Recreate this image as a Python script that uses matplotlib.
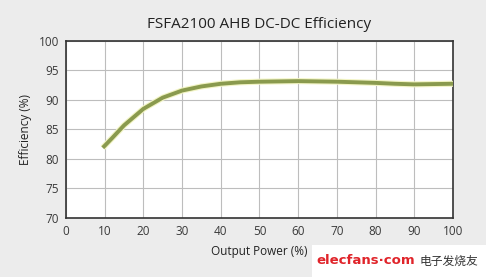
import matplotlib.pyplot as plt

# Efficiency curve
power = [9.5, 12, 15, 20, 25, 30, 35, 40, 45, 50, 60, 70, 80, 85, 90, 95, 100]
efficiency = [81.9, 83.6, 85.7, 88.5, 90.4, 91.6, 92.3, 92.75, 93.0, 93.1, 93.2, 93.1, 92.9,
              92.75, 92.65, 92.7, 92.75]
x_ticks = list(range(0, 101, 10))
y_ticks = list(range(70, 101, 5))

plt.rcParams['font.family'] = ['Open Sans', 'DejaVu Sans']

fig = plt.figure(figsize=(4.86, 2.77), dpi=100, facecolor='#ececec')
ax = fig.add_axes([0.1358, 0.213, 0.7963, 0.639])
ax.set_facecolor('white')

# soft yellow halo under the line, like the original
ax.plot(power, efficiency, color='#f2f4c4', linewidth=4.4, solid_capstyle='butt', zorder=3)
ax.plot(power, efficiency, color='#8a9a4e', linewidth=2.8, solid_capstyle='butt', zorder=4)

ax.set_xlim(0, 100)
ax.set_ylim(70, 100)
ax.set_xticks(x_ticks)
ax.set_yticks(y_ticks)
ax.grid(True, color='#bdbdbd', linewidth=0.8)
ax.tick_params(length=0, labelsize=8.5, colors='#3a3a3a', pad=5)
for s in ax.spines.values():
    s.set_color('#333333')
    s.set_linewidth(1.2)

ax.set_title('FSFA2100 AHB DC-DC Efficiency', fontsize=11, color='#222222', pad=9)
ax.set_xlabel('Output Power (%)', fontsize=8.5, color='#222222', labelpad=5)
ax.set_ylabel('Efficiency (%)', fontsize=8.5, color='#222222', labelpad=5)

# watermark in the bottom right corner
fig.patches.append(plt.Rectangle((312 / 486, 0), 174 / 486, 32 / 277, transform=fig.transFigure,
                                 facecolor='white', edgecolor='none', zorder=5))
fig.text(316 / 486, 16 / 277, 'elecfans·com', color='#e0242a', fontsize=9.5, fontweight='bold',
         family=['DejaVu Sans'], va='center', ha='left', zorder=6)
fig.text(420 / 486, 16 / 277, '电子发烧友', color='#333333', fontsize=8.5,
         family=['Noto Sans CJK SC', 'DejaVu Sans'], va='center', ha='left', zorder=6)

fig.savefig('out.png', dpi=100, facecolor=fig.get_facecolor())
